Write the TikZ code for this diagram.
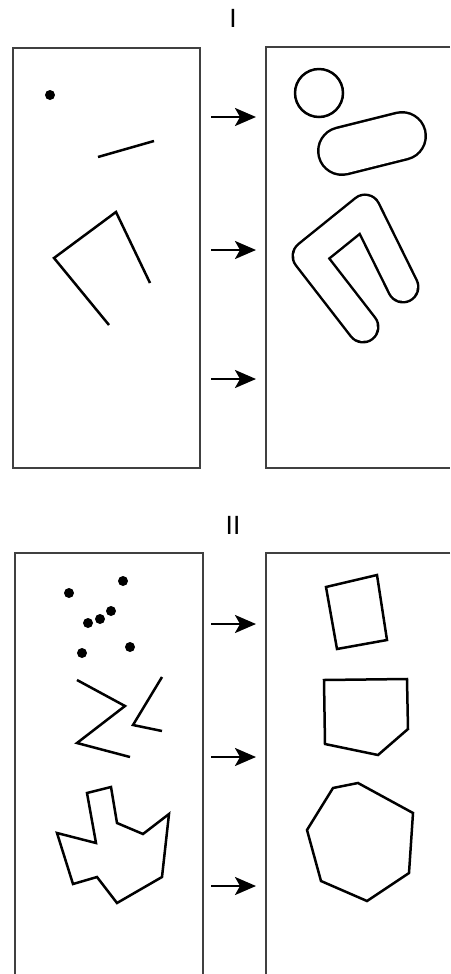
\documentclass[tikz,border=0pt]{standalone}
\usepackage{fontspec}
\setmainfont{Liberation Sans}
\usetikzlibrary{arrows.meta}

\begin{document}
\begin{tikzpicture}[x=0.02cm,y=-0.02cm,
  marco/.style={line width=0.03cm,black!75},
  trazo/.style={line width=0.05cm,line join=miter},
  flecha/.style={line width=0.05cm,-{Stealth[length=0.42cm,width=0.36cm,inset=0.1cm]}},
  grueso/.style={line width=0.05cm,line cap=round,line join=round,double=white},
  titulo/.style={font=\fontsize{15}{18}\selectfont}]
\useasboundingbox (0,0) rectangle (450,974);

% Títulos
\node[titulo] (tI) at (233,18) {I};
\node[titulo] (tII) at (233,525) {II};

% Marcos
\draw[marco] (13,48) rectangle (200,468);
\draw[marco] (450,47) -- (266,47) -- (266,468) -- (450,468);
\draw[marco] (15,974) -- (15,553) -- (203,553) -- (203,974);
\draw[marco] (450,553) -- (266,553) -- (266,974);

% Flechas
\foreach \n/\y in {1/117,2/250,3/379,4/624,5/757,6/886} {
  \coordinate (a\n) at (211,\y);
  \coordinate (b\n) at (256,\y);
  \draw[flecha] (a\n) -- (b\n);
}

% I: punto, segmento y quebrada
\fill (50,95) circle[radius=0.1cm];
\draw[trazo] (98,157) -- (154,141);
\draw[trazo] (150,283) -- (116,212) -- (54,258) -- (109,325);

% I: dilatados
\draw[trazo] (319,93) circle[radius=0.48cm];
\draw[grueso,double distance=0.9cm] (342,151) -- (402,136);
\draw[grueso,double distance=0.56cm] (403,287) -- (365,210) -- (308,256) -- (363,327);

% II: puntos
\foreach \px/\py in {69/593,123/581,88/623,100/619,111/611,82/653,130/647}
  \fill (\px,\py) circle[radius=0.1cm];

% II: quebradas
\draw[trazo] (77,680) -- (125,706) -- (77,743) -- (130,757);
\draw[trazo] (162,677) -- (133,725) -- (162,731);

% II: poligono irregular
\draw[trazo] (87,793) -- (111,787) -- (117,823) -- (143,834) -- (169,814)
  -- (162,877) -- (117,903) -- (97,877) -- (73,884) -- (57,833) -- (96,843) -- cycle;

% II: resultados
\draw[trazo] (326,587) -- (377,575) -- (387,640) -- (337,649) -- cycle;
\draw[trazo] (324,680) -- (407,679) -- (408,729) -- (378,755) -- (325,744) -- cycle;
\draw[trazo] (333,788) -- (358,783) -- (413,813) -- (409,873) -- (367,901)
  -- (321,881) -- (307,830) -- cycle;
\end{tikzpicture}
\end{document}
